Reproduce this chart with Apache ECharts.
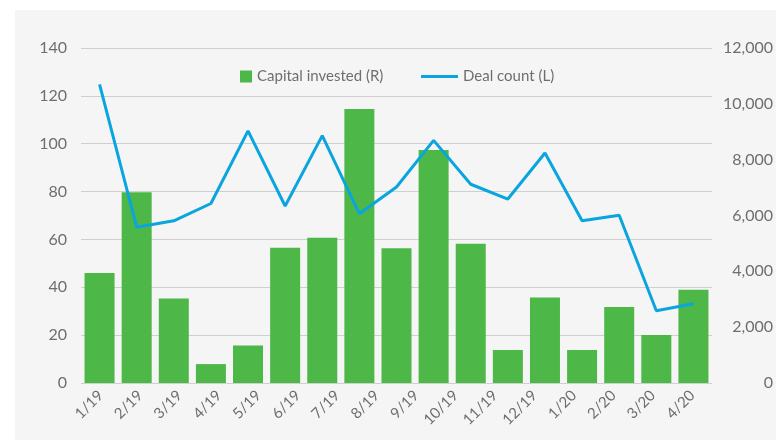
<!DOCTYPE html>
<html>
<head>
<meta charset="utf-8">
<script src="https://cdn.jsdelivr.net/npm/echarts@6/dist/echarts.min.js"></script>
<style>
  html, body { margin: 0; padding: 0; background: #ffffff; }
  #chart { width: 776px; height: 440px; }
</style>
</head>
<body>
<div id="chart"></div>
<script>
// data points (17 of them) and the tick labels printed under the axis (16)
const months = ['1/19', '2/19', '3/19', '4/19', '5/19', '6/19', '7/19', '8/19', '9/19',
  '10/19', '11/19', '12/19', '1/20', '2/20', '3/20', '4/20', '5/20']
const tickLabels = ['1/19', '2/19', '3/19', '4/19', '5/19', '6/19', '7/19', '8/19',
  '9/19', '10/19', '11/19', '12/19', '1/20', '2/20', '3/20', '4/20']
const capitalInvested = [46, 79.7, 35.3, 7.9, 15.7, 56.5, 60.7, 114.5, 56.3,
  97.4, 58.2, 13.8, 35.7, 13.8, 31.8, 20.1, 39]
const dealCount = [10700, 5580, 5810, 6430, 9030, 6340, 8860, 6060, 7020,
  8690, 7120, 6590, 8240, 5810, 6010, 2590, 2840]
const leftTicks = [0, 140, 20]
const rightTicks = [0, 12000, 2000]

const font = 'Lato, "Open Sans", sans-serif'
const textColor = '#6e6e6e'

const myChart = echarts.init(document.getElementById('chart'))

const option = {
  backgroundColor: '#ffffff',
  animation: false,
  textStyle: { fontFamily: font },
  graphic: [
    {
      type: 'rect',
      left: 15,
      top: 10,
      z: -10,
      shape: { width: 761, height: 430 },
      style: { fill: '#f5f5f5' },
    },
  ],
  legend: [
    {
      data: ['Capital invested (R)'],
      left: 235,
      top: 64,
      itemWidth: 12,
      itemHeight: 12,
      icon: 'rect',
      textStyle: { color: textColor, fontSize: 15, fontFamily: font },
    },
    {
      data: ['Deal count (L)'],
      left: 416,
      top: 64,
      itemWidth: 37,
      itemHeight: 3,
      icon: 'rect',
      textStyle: { color: textColor, fontSize: 15, fontFamily: font },
    },
  ],
  grid: {
    left: 81,
    right: 64,
    top: 48,
    bottom: 57,
    containLabel: false,
  },
  xAxis: [
    {
      type: 'category',
      data: months,
      boundaryGap: true,
      axisLine: { show: false },
      axisTick: { show: false },
      axisLabel: { show: false },
    },
    {
      type: 'category',
      data: tickLabels,
      position: 'bottom',
      boundaryGap: true,
      axisLine: { show: false },
      axisTick: { show: false },
      axisLabel: {
        rotate: 45,
        margin: 10,
        interval: 0,
        color: textColor,
        fontSize: 15,
        fontFamily: font,
      },
    },
  ],
  yAxis: [
    {
      type: 'value',
      min: leftTicks[0],
      max: leftTicks[1],
      interval: leftTicks[2],
      position: 'left',
      axisLine: { show: false },
      axisTick: { show: false },
      axisLabel: { margin: 14, color: textColor, fontSize: 16, fontFamily: font },
      splitLine: { show: true, lineStyle: { color: '#cfcfcf', width: 1 } },
    },
    {
      type: 'value',
      min: rightTicks[0],
      max: rightTicks[1],
      interval: rightTicks[2],
      position: 'right',
      axisLine: { show: false },
      axisTick: { show: false },
      axisLabel: {
        margin: 61,
        align: 'right',
        color: textColor,
        fontSize: 16,
        fontFamily: font,
        formatter: (v) => v.toLocaleString('en-US'),
      },
      splitLine: { show: false },
    },
  ],
  series: [
    {
      name: 'Capital invested (R)',
      type: 'bar',
      xAxisIndex: 0,
      yAxisIndex: 0,
      data: capitalInvested,
      barWidth: 30,
      itemStyle: { color: '#4db748' },
    },
    {
      name: 'Deal count (L)',
      type: 'line',
      xAxisIndex: 0,
      yAxisIndex: 1,
      data: dealCount,
      symbol: 'none',
      lineStyle: { color: '#0aa5de', width: 3 },
      itemStyle: { color: '#0aa5de' },
    },
  ],
}

myChart.setOption(option)
</script>
</body>
</html>
